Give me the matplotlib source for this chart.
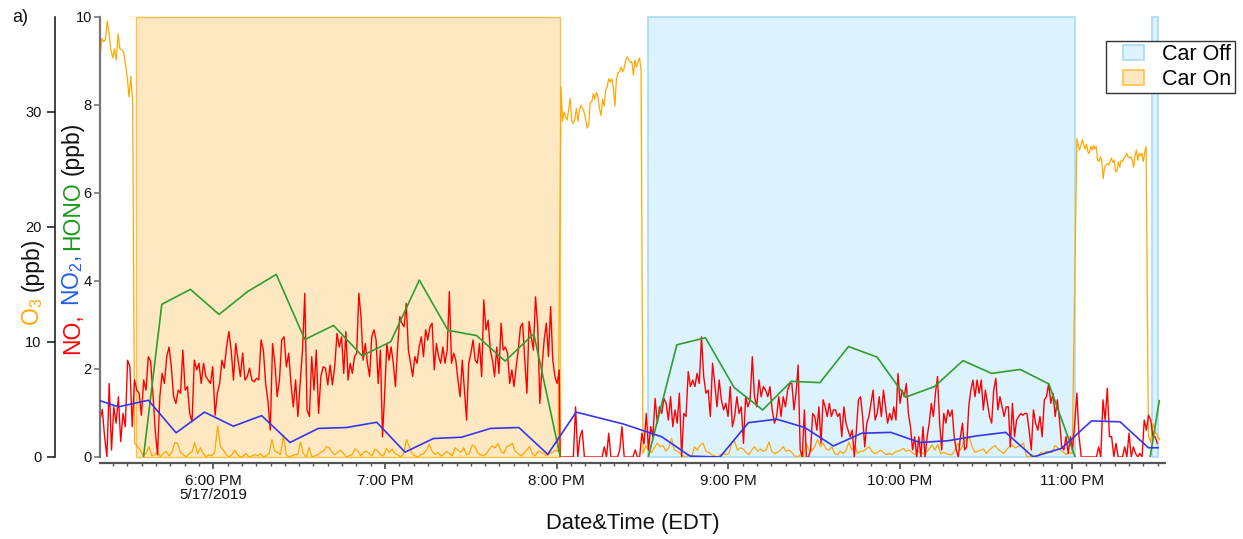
import numpy as np
import pandas as pd
import matplotlib
matplotlib.use("Agg")
import matplotlib.pyplot as plt
import matplotlib.dates as mdates
from matplotlib.patches import Patch, Rectangle
from matplotlib.legend_handler import HandlerPatch
from matplotlib.ticker import FuncFormatter, FixedLocator

plt.rcParams['font.family'] = ['Liberation Sans', 'DejaVu Sans']
plt.rcParams['mathtext.fontset'] = 'custom'
plt.rcParams['mathtext.rm'] = 'Liberation Sans'
plt.rcParams['mathtext.it'] = 'Liberation Sans:italic'
plt.rcParams['mathtext.bf'] = 'Liberation Sans:bold'

DAY = "2019-05-17 "

# ---------------------------------------------------------------- data
# NO (ppb), logged in five continuous stretches (start, end of each stretch)
NO_SPANS = [("17:20:24", "18:44:02"), ("18:44:50", "20:00:54"),
            ("20:01:12", "21:21:30"), ("21:22:12", "22:43:39"),
            ("22:44:21", "23:29:54")]
NO_SEG1 = [0.84, 1.08, 0.46, 0, 1.67, 0.16, 1.14, 0.77, 1.37, 0.35,
           0.99, 0.69, 2.2, 2.05, 0.69, 1.75, 1.52, 1.45, 0.95, 1.75,
           1.52, 2.28, 2.17, 1.45, 0.61, 0.05, 1.37, 1.9, 1.67, 2.28,
           2.5, 2.05, 1.37, 1.22, 1.52, 1.45, 2.43, 1.52, 1.6, 0.99,
           0.8, 2.2, 1.98, 2.13, 1.67, 2.13, 1.83, 1.75, 1.67, 2.05,
           0.95, 1.45, 1.67, 2.2, 2.02, 2.5, 2.85, 2.43, 1.75, 2.58,
           2.2, 1.83, 2.36, 1.75, 1.83, 2.02, 1.75, 1.71, 1.79, 1.75,
           2.66, 2.43, 1.67, 1.26, 0.61, 2.58, 2.13, 1.37, 1.75, 2.66,
           2.73, 2.05, 2.36, 1.67, 1.14, 1.75, 0.92, 1.67, 2.43, 3.72,
           1.07, 0.92, 2.28, 1.52, 2.43, 0.99, 1.83, 2.05, 2.02, 1.64,
           2.09, 1.64, 2.05, 2.81, 2.5]
NO_SEG2 = [2.73, 1.9, 2.85, 1.75, 2.13, 1.9, 2.28, 2.36, 3.72, 3.19,
           2.2, 2.58, 2.13, 1.83, 2.73, 2.89, 2.66, 1.67, 2.43, 0.46,
           1.45, 2.58, 2.2, 2.5, 2.13, 1.6, 2.5, 3.19, 3.04, 2.96,
           3.49, 2.43, 2.13, 1.83, 2.28, 2.13, 2.5, 2.73, 2.28, 2.89,
           2.66, 2.96, 3.04, 1.98, 2.58, 2.28, 2.13, 2.5, 2.13, 2.43,
           3.76, 2.13, 2.36, 2.2, 1.75, 1.37, 2.2, 1.52, 0.84, 2.13,
           2.36, 2.66, 2.2, 2.13, 2.58, 1.83, 3.57, 2.89, 3.11, 2.43,
           2.2, 1.83, 2.5, 1.9, 3.04, 2.43, 2.5, 2.36, 1.67, 1.98,
           1.6, 2.05, 2.43, 2.96, 3.04, 2.2, 1.45, 3.08, 2.73, 2.43,
           3.64, 2.96, 1.22, 2.05, 2.66, 3.04, 2.28, 3.42, 2.2, 1.83,
           1.67, 1.98]
NO_SEG3 = [0, 0, 0, 0, 0, 0, 0, 1.14, 0, 0.46,
           0.61, 0, 0, 0, 0, 0, 0, 0, 0, 0,
           0.23, 0, 0.54, 0, 0, 0, 0, 0.16, 0.69, 0,
           0, 0, 0, 0, 0.16, 0, 0, 0.54, 0.3,
           0.99, 0.16, 0.69, 0.46, 1.33, 0.77, 1.14, 0.99, 1.33, 1.22,
           0.84, 1.37, 0.69, 1.07, 0.77, 1.45, 0, 0.99, 0.92, 1.94,
           1.6, 1.75, 1.6, 1.9, 1.67, 2.73, 1.83, 1.45, 1.52, 0.92,
           2.13, 1.67, 1.14, 1.75, 1.3, 1.07, 1.22, 0.92, 1.6, 0.69,
           0.92, 1.37, 0.99, 1.14, 0.31, 1.37, 1.14, 1.3, 2.28, 1.37,
           1.14, 1.75, 1.37, 1.6, 1.52, 1.37, 1.6, 1.07, 0.77, 0.92,
           1.37, 0.92, 1.37, 1.14, 1.52, 1.67]
NO_SEG4 = [1.67, 1.07, 1.45, 2.09, 0.16, 0, 1.07, 0, 0, 0.16,
           0.99, 0.92, 0.61, 1.14, 0.31, 1.3, 1.14, 0.92, 1.22, 0.92,
           1.07, 1.07, 0.92, 0.99, 0.46, 1.14, 0.77, 0.61, 0.46, 0.61,
           0, 0.61, 1.3, 1.37, 0.92, 0.23, 0.77, 0.92, 1.22, 1.52,
           0.84, 0.99, 1.37, 0.92, 1.52, 1.14, 0.77, 0.99, 0.84, 1.14,
           0.84, 1.9, 1.22, 1.52, 1.37, 1.67, 0.99, 0.69, 0.16, 0.46,
           0, 0.46, 0, 0.69, 0, 0.46, 0.77, 1.22, 0.92, 1.45,
           1.83, 0.77, 0.16, 0.99, 0.77, 1.07, 0.92, 1.07, 0.46, 0.16,
           0, 0.46, 0.77, 0.16, 0.23, 1.14, 1.52, 1.75, 1.37, 1.75,
           1.45, 1.75, 1.07, 1.52, 1.22, 0.92, 0.77, 1.52, 1.79, 1.07,
           1.37, 1.14, 0.92, 1.14, 1.14, 0.23, 1.22, 0.46, 0.84, 0.92,
           0.99, 0.95, 0.99]
NO_SEG5 = [0.99, 0.61, 0.16, 1.07, 0.77, 0.61, 0.92, 0.46, 1.3, 1.37,
           1.67, 1.22, 1.45, 0.92, 1.3, 0.84, 0.23, 0.16, 0.46, 0.08,
           0.46, 0.16, 0.77, 1.45, 0.46,
           0, 0, 0, 0, 0, 0, 0, 0, 0.23, 0,
           1.3, 0.84, 1.56, 0.46, 0.46, 0, 0.31, 0, 0, 0,
           0.23, 0, 0.54, 0, 0.23, 0.08, 0, 0.08, 0, 0.84,
           0.61, 0.95, 0.84, 0.46, 0.46, 0.31]

# O3 (ppb), six stretches
O3_SPANS = [("17:20:24", "17:31:48"), ("17:32:30", "20:00:30"),
            ("20:01:30", "20:29:30"), ("20:30:10", "23:00:10"),
            ("23:01:48", "23:26:00"), ("23:26:48", "23:30:48")]
O3_SEG1 = [34.8, 36.4, 36.1, 36.3, 37.9, 36.8, 35.4, 34.7, 35.5, 34.5,
           36.8, 35.5, 35.4, 35.2, 34.2, 33.1, 31.3, 33.1, 31.0]
O3_SEG2 = [1.2, 0.9, 0.6, 0.1, 0.3, 0.9, 0.1, 0.2, 0.5, 0.0,
           0.3, 0.5, 0.1, 0.4, 1.25, 1.2, 0.4, 0.2, 0.0, 0.3,
           0.4, 1.25, 0.3, 0.8, 0.3, 0.0, 0.2, 0.1, 0.4, 2.7,
           0.9, 0.6, 0.2, 0.0, 0.2, 0.6, 0.2, 0.0, 0.1, 0.3,
           0.0, 0.1, 0.2, 0.1, 0.3, 0.0, 0.1, 0.3, 1.5, 0.5,
           0.4, 0.2, 1.9, 0.2, 0.0, 0.1, 0.2, 0.2, 1.3, 0.3,
           0.0, 0.8, 0.0, 0.1, 0.2, 0.4, 0.5, 0.9, 0.8, 0.4,
           0.2, 0.4, 0.6, 0.3, 0.0, 0.1, 0.2, 0.7, 0.5, 0.1,
           0.4, 0.5, 0.3, 0.1, 0.7, 0.5, 0.2, 0.1, 0.75, 0.4,
           0.7, 0.3, 0.2, 0.0, 0.3, 1.5, 0.9, 0.3, 0.1, 0.0,
           0.2, 0.3, 0.6, 1.1, 0.5, 0.2, 0.4, 0.1, 0.2, 0.5,
           0.3, 0.1, 0.8, 0.6, 0.4, 0.8, 0.2, 0.3, 1.05, 0.9,
           0.3, 0.2, 0.1, 0.3, 0.7, 0.95, 0.8, 1.2, 0.5, 0.3,
           0.9, 1.0, 1.2, 0.5, 0.3, 0.1, 0.3, 0.6, 0.9, 0.3,
           0.1, 0.5, 0.4, 0.3, 0.1, 0.3, 0.4, 0.6, 0.5]
O3_SEG3 = [32.2, 29.2, 30.0, 29.6, 29.3, 30.2, 31.2, 29.2, 29.0, 29.4,
           30.3, 29.2, 30.2, 30.6, 30.3, 30.0, 29.4, 28.6, 28.9, 30.8,
           30.9, 31.6, 31.1, 31.7, 31.3, 30.3, 29.7, 31.1, 30.5, 31.9,
           32.2, 32.9, 32.6, 32.9, 32.1, 30.5, 32.9, 33.4, 33.5, 33.9,
           33.5, 33.8, 34.5, 34.8, 34.5, 34.3, 34.4, 33.2, 34.5, 33.9,
           34.3, 34.7, 33.6]
O3_SEG4 = [0.3, 1.0, 0.5, 0.4, 0.8, 1.2, 0.9, 1.0, 0.5, 0.8,
           1.6, 0.6, 0.5, 0.3, 0.1, 0.0, 0.2, 0.0, 0.9, 0.6,
           1.05, 1.2, 0.5, 0.4, 0.2, 0.1, 0.0, 0.2, 0.3, 0.2,
           0.3, 1.2, 1.4, 0.6, 0.8, 0.7, 0.4, 0.2, 0.6, 0.9,
           0.5, 0.7, 0.5, 0.6, 1.3, 0.5, 0.3, 0.4, 0.6, 0.9,
           0.5, 0.6, 0.4, 0.1, 0.0, 0.2, 0.0, 1.2, 0.6, 0.5,
           0.9, 1.5, 0.9, 1.2, 0.7, 0.6, 0.9, 0.3, 0.2, 0.5,
           0.3, 0.6, 1.3, 0.6, 1.0, 0.3, 0.5, 0.5, 0.7, 0.9,
           0.5, 0.3, 0.4, 0.6, 0.4, 0.2, 0.3, 0.2, 0.4, 0.5,
           0.6, 0.75, 0.5, 0.6, 0.4, 0.2, 0.5, 0.4, 0.3, 0.4,
           0.7, 1.05, 0.6, 1.1, 0.3, 0.4, 0.3, 0.2, 0.2, 0.6,
           1.2, 0.6, 1.2, 1.5, 1.75, 0.9, 0.4, 0.5, 0.6, 0.7,
           0.3, 0.6, 0.8, 1.0, 0.7, 0.5, 0.3, 0.6, 0.9, 1.05,
           0.8, 0.9, 1.0, 1.2, 0.1, 0.0, 0.2, 0.1, 0.0, 0.4,
           0.3, 0.5, 0.4, 0.4, 1.0, 0.8, 0.6, 0.4, 0.2, 0.4, 0.3]
O3_SEG5 = [27.7, 27.1, 26.7, 27.1, 27.6, 27.1, 26.8, 27.2, 26.5, 26.4,
           27.0, 26.7, 27.1, 26.8, 27.0, 25.8, 25.7, 26.1, 25.7, 24.2,
           25.2, 25.4, 25.5, 25.4, 25.7, 26.0, 25.6, 25.8, 24.8, 24.9,
           25.7, 25.2, 25.8, 25.7, 26.0, 26.1, 26.4, 26.1, 26.0, 26.1,
           25.8, 25.2, 26.2, 26.7, 25.8, 26.4, 26.2, 26.4, 25.7, 26.5,
           27.0]
O3_SEG6 = [1.8, 1.3, 2.9, 2.2, 1.8, 1.5]

# NO2 (ppb)
NO2_TIMES = ["17:20:24", "17:26:48", "17:37:18", "17:47:00", "17:56:54",
             "18:07:00", "18:16:54", "18:26:48", "18:36:42", "18:46:36",
             "18:57:06", "19:07:00", "19:16:54", "19:26:48", "19:36:54",
             "19:46:48", "19:56:54", "20:06:48", "20:23:18", "20:36:42",
             "20:46:36", "20:57:06", "21:07:00", "21:16:54", "21:26:42",
             "21:36:42", "21:46:36", "21:56:48", "22:06:54", "22:16:48",
             "22:26:48", "22:36:54", "22:46:30", "22:56:30", "23:06:54",
             "23:16:54", "23:26:48", "23:30:12"]
NO2_VALUES = [1.28, 1.14, 1.29, 0.55, 1.02, 0.70, 0.94, 0.33, 0.65, 0.67,
              0.79, 0.11, 0.42, 0.45, 0.65, 0.67, 0.06, 1.02, 0.75, 0.46,
              0.02, 0.0, 0.78, 0.86, 0.67, 0.25, 0.54, 0.56, 0.33, 0.37,
              0.48, 0.56, 0.0, 0.2, 0.82, 0.8, 0.21, 0.21]

# HONO (ppb); NaN separates the measurement sessions
HONO_TIMES = ["17:35:36", "17:42:00", "17:52:00", "18:02:00", "18:12:00",
              "18:22:00", "18:32:00", "18:42:00", "18:52:00", "19:02:00",
              "19:12:00", "19:22:00", "19:32:00", "19:42:00", "19:52:00",
              "20:01:12", "20:16:00",
              "20:32:00", "20:42:00", "20:52:00", "21:02:00", "21:12:00",
              "21:22:00", "21:32:00", "21:42:00", "21:52:00", "22:02:00",
              "22:12:00", "22:22:00", "22:32:00", "22:42:00", "22:52:00",
              "23:01:12", "23:14:00",
              "23:27:24", "23:30:36"]
HONO_VALUES = [0.0, 3.47, 3.81, 3.24, 3.76, 4.15, 2.67, 2.99, 2.30, 2.62,
               4.02, 2.88, 2.76, 2.18, 2.80, 0.02, np.nan,
               0.0, 2.55, 2.71, 1.58, 1.07, 1.72, 1.69, 2.51, 2.27, 1.36,
               1.60, 2.19, 1.90, 1.99, 1.66, 0.0, np.nan,
               0.0, 1.28]

# Ignition state periods
CAR_ON = [("17:33:00", "20:01:12")]
CAR_OFF = [("20:31:54", "23:01:06"), ("23:27:54", "23:30:12")]

X_RANGE = ("17:20:24", "23:32:36")
O3_MAX = 38.26
NO_MAX = 10

# ---------------------------------------------------------------- helpers
def ts(clock):
    return pd.Timestamp(DAY + clock)


def series(spans, segments):
    times, values = [], []
    for (start, end), seg in zip(spans, segments):
        times.append(pd.date_range(ts(start), ts(end), periods=len(seg)))
        values.append(np.asarray(seg, dtype=float))
    return mdates.date2num(np.concatenate([t.values for t in times])), np.concatenate(values)


no_t, no_v = series(NO_SPANS, [NO_SEG1, NO_SEG2, NO_SEG3, NO_SEG4, NO_SEG5])
o3_t, o3_v = series(O3_SPANS, [O3_SEG1, O3_SEG2, O3_SEG3, O3_SEG4, O3_SEG5, O3_SEG6])
no2_t = mdates.date2num([ts(c) for c in NO2_TIMES])
hono_t = mdates.date2num([ts(c) for c in HONO_TIMES])

C_ORANGE = '#FFA800'
C_RED = '#FF0000'
C_BLUE = '#3535F0'
C_GREEN = '#2E9E2E'
ON_FACE, ON_EDGE = '#FDE8C2', '#FFC04A'
OFF_FACE, OFF_EDGE = '#DCF2FD', '#A8DBF5'

W, H = 1243, 539
fig = plt.figure(figsize=(W / 100, H / 100), dpi=100)
ax = fig.add_axes([100 / W, (H - 457) / H, 1065 / W, 440 / H])
ax2 = ax.twinx()

# draw order: O3 axis (with shading) underneath, nitrogen species on top
ax.set_zorder(2)
ax2.set_zorder(1)
ax.patch.set_visible(False)
ax2.patch.set_visible(False)

for start, end in CAR_ON:
    ax2.axvspan(mdates.date2num(ts(start)), mdates.date2num(ts(end)),
                facecolor=ON_FACE, edgecolor=ON_EDGE, lw=1.0, zorder=0, clip_on=False)
for start, end in CAR_OFF:
    ax2.axvspan(mdates.date2num(ts(start)), mdates.date2num(ts(end)),
                facecolor=OFF_FACE, edgecolor=OFF_EDGE, lw=1.2, zorder=0, clip_on=False)

ax2.plot(o3_t, o3_v, color=C_ORANGE, lw=0.9, zorder=2)
ax.plot(no_t, no_v, color=C_RED, lw=1.0, zorder=2)
ax.plot(hono_t, HONO_VALUES, color=C_GREEN, lw=1.2, zorder=3)
ax.plot(no2_t, NO2_VALUES, color=C_BLUE, lw=1.2, zorder=4)

ax.set_xlim(mdates.date2num(ts(X_RANGE[0])), mdates.date2num(ts(X_RANGE[1])))
ax.set_ylim(0, NO_MAX)
ax2.set_ylim(0, O3_MAX)

# --- spines
SPINE_GREY = '#555555'
for s in ('top', 'right'):
    ax.spines[s].set_visible(False)
ax.spines['left'].set_color('#777777')
ax.spines['left'].set_linewidth(1.6)
ax.spines['bottom'].set_color(SPINE_GREY)
ax.spines['bottom'].set_linewidth(1.6)
ax.spines['bottom'].set_position(('outward', 4.2))

for s in ('top', 'right', 'bottom'):
    ax2.spines[s].set_visible(False)
ax2.spines['left'].set_visible(True)
ax2.spines['left'].set_position(('outward', 45 * 0.72))
ax2.spines['left'].set_color('#222222')
ax2.spines['left'].set_linewidth(1.2)

# --- ticks
ax.yaxis.set_major_locator(FixedLocator([0, 2, 4, 6, 8, 10]))
ax.tick_params(axis='y', direction='out', length=4.3, width=1.2, color='#777777',
               labelsize=10.5, pad=1.6, labelcolor='#111111')
ax2.yaxis.tick_left()
ax2.yaxis.set_major_locator(FixedLocator([0, 10, 20, 30]))
ax2.tick_params(axis='y', which='both', left=True, right=False, labelleft=True,
                labelright=False, direction='out', length=6, width=1.2,
                color='#222222', labelsize=10.5, pad=3.6, labelcolor='#111111')

ax.xaxis.set_major_locator(mdates.HourLocator(byhour=range(18, 24)))
ax.xaxis.set_minor_locator(mdates.MinuteLocator(byminute=range(0, 60, 5)))


def clock_label(x, pos):
    d = mdates.num2date(x)
    text = f"{d.hour % 12 or 12}:{d.minute:02d} {'PM' if d.hour >= 12 else 'AM'}"
    if d.hour == 18:
        text += f"\n{d.month}/{d.day}/{d.year}"
    return text


ax.xaxis.set_major_formatter(FuncFormatter(clock_label))
ax.tick_params(axis='x', which='major', direction='out', length=4.3, width=1.3,
               color=SPINE_GREY, labelsize=11, pad=3.7, labelcolor='#111111')
ax.tick_params(axis='x', which='minor', direction='out', length=2.4, width=1.0,
               color=SPINE_GREY)
ax.set_xlabel("Date&Time (EDT)", fontsize=15.8, color='#111111', labelpad=8)

# --- legend
class RightAlignedPatch(HandlerPatch):
    def create_artists(self, legend, orig_handle, xdescent, ydescent,
                       width, height, fontsize, trans):
        w = 15.1
        p = Rectangle((-xdescent + width - w, -ydescent), w, height)
        self.update_prop(p, orig_handle, legend)
        p.set_transform(trans)
        return [p]


handles = [Patch(facecolor=OFF_FACE, edgecolor=OFF_EDGE, lw=1.2, label="Car Off"),
           Patch(facecolor=ON_FACE, edgecolor=ON_EDGE, lw=1.2, label="Car On")]
leg = fig.legend(handles=handles, loc='upper left',
                 bbox_to_anchor=(1106 / W, 1 - 41 / H), bbox_transform=fig.transFigure,
                 borderaxespad=0, fontsize=15.5, handlelength=1.6, handleheight=0.7,
                 handletextpad=0.85, borderpad=0.16, labelspacing=0.15,
                 fancybox=False, framealpha=1, edgecolor='#333333',
                 handler_map={Patch: RightAlignedPatch()})
leg.get_frame().set_linewidth(1.0)

fig.text(12 / W, 1 - 22 / H, "a)", fontsize=13, va='baseline', ha='left', color='#111111')

# --- multi-coloured vertical axis titles
fig.canvas.draw()
renderer = fig.canvas.get_renderer()


def stacked_title(x_px, y_px, parts, size=16.5):
    y = y_px
    for text, color, gap in parts:
        t = fig.text(x_px / W, y / H, text, rotation=90, rotation_mode='anchor',
                     ha='left', va='baseline', color=color, fontsize=size)
        y += t.get_window_extent(renderer).height + gap


SPACE = 6.4
stacked_title(39.0, H - 325.5, [("O$_3$", C_ORANGE, SPACE), ("(ppb)", '#111111', 0)])
stacked_title(79.0, H - 353.5, [("NO,", C_RED, SPACE), ("NO$_2$,", '#1F5BF0', SPACE),
                                ("HONO", '#1A9A1A', SPACE), ("(ppb)", '#111111', 0)])

for lab in ax.get_xticklabels():
    lab.set_linespacing(1.0)

fig.savefig("out.png", dpi=100)
